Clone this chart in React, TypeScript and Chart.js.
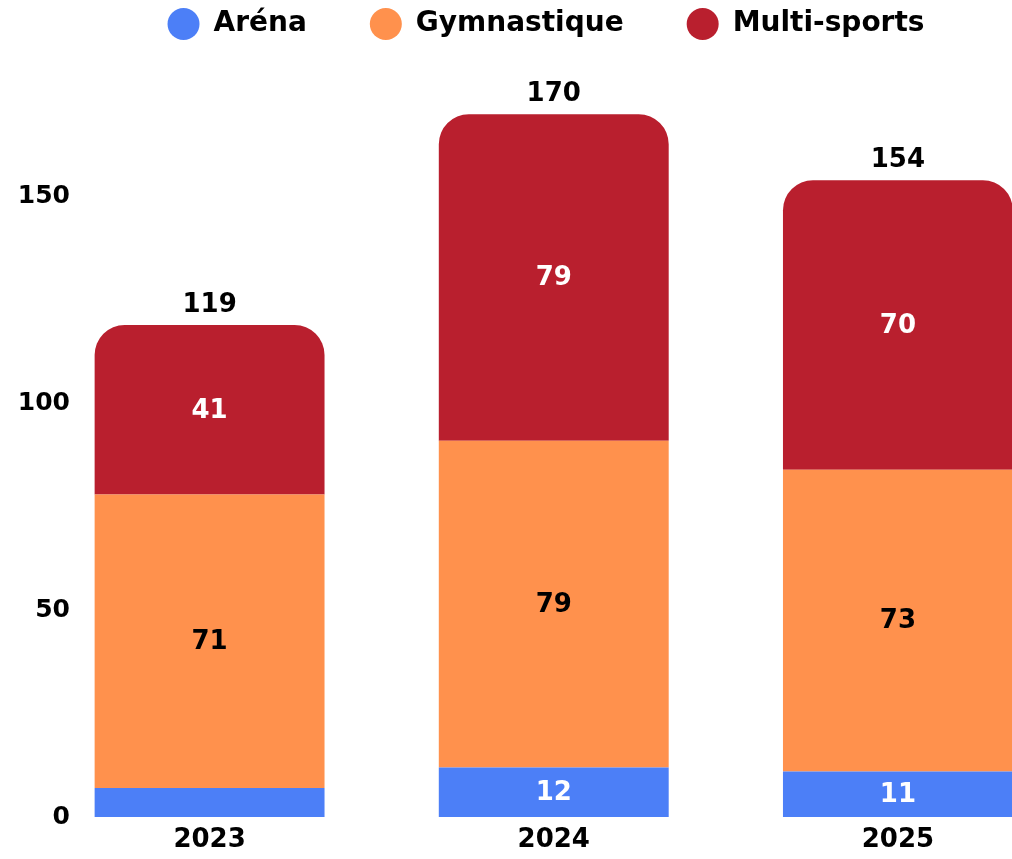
import React, { useEffect, useRef } from "react";
import { Chart, registerables } from "chart.js";

Chart.register(...registerables);

// ---- data ----
const years = ["2023", "2024", "2025"];
const seriesNames = ["Aréna", "Gymnastique", "Multi-sports"];
const arenaValues = [7, 12, 11];
const gymValues = [71, 79, 73];
const multiValues = [41, 79, 70];
const yTickValues = [0, 50, 100, 150];

// ---- styles ----
const BLUE = "#4C7FF7";
const ORANGE = "#FF914D";
const RED = "#B91F2E";
const FONT = "'DejaVu Sans'";
const labelColors = ["#FFFFFF", "#000000", "#FFFFFF"];

const valueLabels = {
  id: "valueLabels",
  afterDatasetsDraw(chart: any) {
    const ctx = chart.ctx;
    ctx.save();
    ctx.font = `700 26px ${FONT}`;
    ctx.textAlign = "center";
    ctx.textBaseline = "middle";
    const n = chart.data.datasets.length;
    chart.data.datasets.forEach((ds: any, di: number) => {
      const meta = chart.getDatasetMeta(di);
      meta.data.forEach((bar: any, i: number) => {
        const p = bar.getProps(["x", "y", "base"], true);
        if (Math.abs(p.base - p.y) < 34) return;
        ctx.fillStyle = labelColors[di];
        ctx.fillText(String(ds.data[i]), p.x, (p.y + p.base) / 2 + 1);
      });
    });
    const topMeta = chart.getDatasetMeta(n - 1);
    topMeta.data.forEach((bar: any, i: number) => {
      let total = 0;
      chart.data.datasets.forEach((ds: any) => (total += ds.data[i]));
      const p = bar.getProps(["x", "y"], true);
      ctx.fillStyle = "#000000";
      ctx.fillText(String(total), p.x, p.y - 20);
    });
    ctx.restore();
  },
};

export default function App() {
  const canvasRef = useRef<HTMLCanvasElement>(null);

  useEffect(() => {
    if (!canvasRef.current) return;
    const chart = new Chart(canvasRef.current, {
      type: "bar",
      data: {
        labels: years,
        datasets: [
          { label: seriesNames[0], data: arenaValues, backgroundColor: BLUE, borderRadius: 0 },
          { label: seriesNames[1], data: gymValues, backgroundColor: ORANGE, borderRadius: 0 },
          {
            label: seriesNames[2],
            data: multiValues,
            backgroundColor: RED,
            borderRadius: { topLeft: 30, topRight: 30, bottomLeft: 0, bottomRight: 0 },
            borderSkipped: "start",
          },
        ],
      },
      options: {
        animation: false,
        responsive: true,
        maintainAspectRatio: false,
        datasets: { bar: { categoryPercentage: 0.8, barPercentage: 0.835 } },
        layout: { padding: { left: 22, right: 5, top: -53, bottom: 0 } },
        plugins: {
          legend: {
            position: "top",
            labels: {
              usePointStyle: true,
              pointStyle: "circle",
              pointStyleWidth: 32,
              boxHeight: 22.6,
              padding: 63,
              color: "#000000",
              font: { family: FONT, size: 28, weight: "700" },
            },
          },
          tooltip: { enabled: false },
        },
        scales: {
          x: {
            stacked: true,
            grid: { display: false, drawTicks: false },
            border: { display: false },
            ticks: { color: "#000000", padding: 8, font: { family: FONT, size: 26, weight: "700" } },
            afterFit: (scale: any) => {
              scale.height = 42;
            },
          },
          y: {
            stacked: true,
            min: 0,
            max: 186,
            grid: { display: false, drawTicks: false },
            border: { display: false },
            ticks: {
              mirror: true,
              crossAlign: "far",
              color: "#000000",
              padding: -19.7,
              font: { family: FONT, size: 25, weight: "700" },
            },
            afterBuildTicks: (scale: any) => {
              scale.ticks = yTickValues.map((v) => ({ value: v }));
            },
            afterFit: (scale: any) => {
              scale.width = 15.5;
            },
          },
        },
      },
      plugins: [valueLabels],
    } as any);
    return () => chart.destroy();
  }, []);

  return (
    <div style={{ position: "absolute", left: 0, top: 0, width: 1012, height: 859, overflow: "hidden" }}>
      <div style={{ position: "absolute", left: 0, top: 0, width: 1075, height: 859 }}>
        <canvas ref={canvasRef} />
      </div>
    </div>
  );
}
